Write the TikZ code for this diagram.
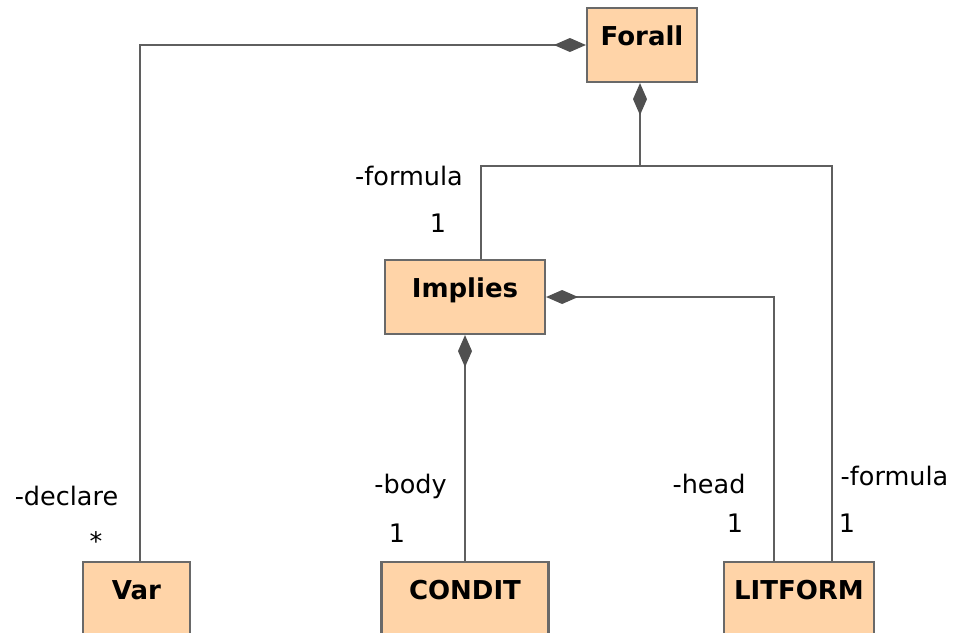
\documentclass[tikz,border=0pt]{standalone}
\usepackage{fontspec}
\setmainfont{DejaVu Sans}
\usetikzlibrary{arrows.meta,positioning}

\definecolor{peach}{RGB}{255,212,168}
\definecolor{boxline}{RGB}{105,105,105}
\definecolor{wire}{RGB}{95,95,95}
\definecolor{tip}{RGB}{80,80,80}

\begin{document}
\begin{tikzpicture}[x = 1pt, y = -1pt,
  cls/.style = {draw = boxline, fill = peach, line width = 2.2pt, shape = rectangle, inner sep = 0pt, text height = 37pt, text depth = 37pt, font = \fontsize{26}{30}\selectfont\bfseries},
  role/.style = {inner sep = 0pt, anchor = base, font = \fontsize{25.5}{30}\selectfont},
  link/.style = {draw = wire, line width = 2.2pt},
  owner/.style = {link, {Diamond[length = 32pt, width = 14pt, color = tip, fill = tip]}-}]
\useasboundingbox (0,0) rectangle (958,632);
\fill[white] (0,0) rectangle (958,632);
\clip (0,0) rectangle (958,632);

% classes
\node[cls, minimum width = 110pt] (forall) at (642,45) {Forall};
\node[cls, minimum width = 160pt] (implies) at (465,297) {Implies};
\node[cls, minimum width = 107pt] (var) at (136.5,599) {Var};
\node[cls, minimum width = 167pt] (condit) at (465,599) {CONDIT};
\node[cls, minimum width = 150pt] (litform) at (799,599) {LITFORM};

% compositions
\draw[owner] (forall.west) -| ([xshift = 3.5pt]var.north);
\draw[owner] ([xshift = -2pt]forall.south) -- ++(0,83) coordinate (fork);
\draw[link] (fork) -| ([xshift = 16pt]implies.north);
\draw[link] (fork) -| ([xshift = 33pt]litform.north);
\draw[owner] (implies.east) -| ([xshift = -25pt]litform.north);
\draw[owner] (implies.south) -- (condit.north);

% roles
\node[role] (formulaA) at (409,185) {-formula};
\node[role] (oneA) at (438,232) {1};
\node[role] (declare) at (66.5,505) {-declare};
\node[role] (many) at (96,550) {*};
\node[role] (body) at (410.5,493) {-body};
\node[role] (oneB) at (397,542) {1};
\node[role] (head) at (709,493) {-head};
\node[role] (oneC) at (735,532) {1};
\node[role] (formulaB) at (894.5,485) {-formula};
\node[role] (oneD) at (847,532) {1};
\end{tikzpicture}
\end{document}
